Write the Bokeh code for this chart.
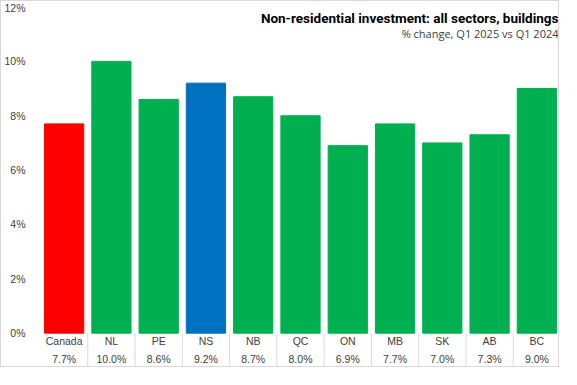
from bokeh.plotting import figure
from bokeh.models import (ColumnDataSource, Range1d, FixedTicker, PrintfTickFormatter,
                          LinearAxis, Label)
from bokeh.core.properties import value
from bokeh.embed import file_html
from bokeh.resources import INLINE

# ---- data ----
categories = ["Canada", "NL", "PE", "NS", "NB", "QC", "ON", "MB", "SK", "AB", "BC"]
values = [7.7, 10.0, 8.6, 9.2, 8.7, 8.0, 6.9, 7.7, 7.0, 7.3, 9.0]
bar_colors = ["#FF0000", "#00B050", "#00B050", "#0070C0", "#00B050", "#00B050",
              "#00B050", "#00B050", "#00B050", "#00B050", "#00B050"]
y_ticks = [0, 2, 4, 6, 8, 10, 12]
title_text = "Non-residential investment: all sectors, buildings"
subtitle_text = "% change, Q1 2025 vs Q1 2024"

xs = list(range(len(categories)))
value_labels = [f"{v:.1f}%" for v in values]

Y_END = 12.02
Y_START = -1.30
ROW1_Y = -0.28
ROW2_Y = -0.95

p = figure(width=559, height=367, output_backend="svg", toolbar_location=None,
           x_range=Range1d(-0.5, len(categories) - 0.5),
           y_range=Range1d(Y_START, Y_END),
           x_axis_type=None, y_axis_type=None,
           min_border_left=33, min_border_right=0, min_border_top=5, min_border_bottom=0)
p.styles = {"border": "1px solid #d9d9d9"}
p.outline_line_color = None
p.background_fill_color = "white"
p.border_fill_color = "white"

yaxis = LinearAxis(ticker=FixedTicker(ticks=y_ticks),
                   formatter=PrintfTickFormatter(format="%d%%"))
yaxis.axis_line_color = None
yaxis.major_tick_line_color = None
yaxis.minor_tick_line_color = None
yaxis.major_label_standoff = 9
yaxis.major_label_text_font = "Liberation Sans"
yaxis.major_label_text_font_size = "10.5px"
yaxis.major_label_text_color = "#404040"
p.add_layout(yaxis, "left")

p.ygrid.ticker = FixedTicker(ticks=y_ticks)
p.ygrid.grid_line_color = "#d9d9d9"
p.xgrid.visible = False

src = ColumnDataSource(dict(x=xs, top=values, color=bar_colors, cat=categories,
                            lab=value_labels,
                            r1=[ROW1_Y] * len(xs), r2=[ROW2_Y] * len(xs)))
p.vbar(x="x", top="top", bottom=0, width=0.83, color="color", source=src)

# table separators
bounds = [i + 0.5 for i in range(len(categories) - 1)]
p.segment(x0=bounds, x1=bounds, y0=[0] * len(bounds), y1=[Y_START] * len(bounds),
          line_color="#d9d9d9", line_width=1)

p.text(x="x", y="r1", text="cat", source=src, text_align="center", text_baseline="middle",
       text_font=value("Liberation Sans"), text_font_size="10.5px", text_color="#404040")
p.text(x="x", y="r2", text="lab", source=src, text_align="center", text_baseline="middle",
       text_font=value("Liberation Sans"), text_font_size="10.5px", text_color="#404040")

p.add_layout(Label(x=len(categories) - 0.5, y=11.60, x_offset=-2, text=title_text,
                   text_align="right", text_baseline="middle",
                   text_font="Roboto", text_font_style="bold",
                   text_font_size="13.5px", text_color="#000000"))
p.add_layout(Label(x=len(categories) - 0.5, y=11.01, x_offset=-2, text=subtitle_text,
                   text_align="right", text_baseline="middle",
                   text_font="Open Sans", text_font_size="11px", text_color="#404040"))

open("out.html", "w").write(file_html(p, INLINE))
